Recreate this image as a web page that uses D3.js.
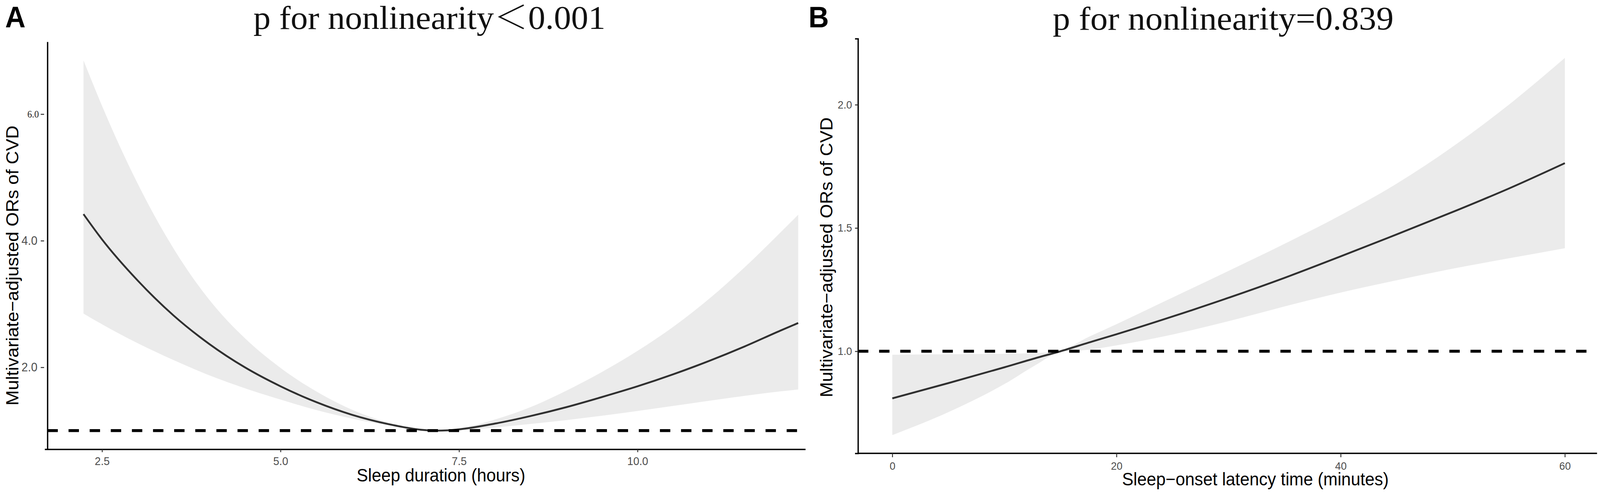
<!DOCTYPE html>
<html>
<head>
<meta charset="utf-8">
<script src="https://cdn.jsdelivr.net/npm/d3@7"></script>
<style>
  html, body { margin: 0; padding: 0; background: #ffffff; width: 100%; height: 100%; overflow: hidden; }
  svg { display: block; width: 100vw; height: 100vh; }
</style>
</head>
<body>
<svg id="chart" viewBox="0 0 4318 1260" preserveAspectRatio="none"></svg>
<script>
// ---------- Panel A: sleep duration ----------
const sleepHours = [2.24, 2.5, 3.0, 3.5, 4.0, 4.5, 5.0, 5.5, 6.0, 6.5, 7.0, 7.2, 7.5, 8.0, 8.5, 9.0, 9.5, 10.0, 10.5, 11.0, 11.5, 12.0, 12.25];
const sleepOR    = [4.42, 4.02, 3.37, 2.82, 2.37, 2.00, 1.70, 1.45, 1.25, 1.105, 1.01, 1.00, 1.02, 1.11, 1.23, 1.37, 1.53, 1.70, 1.89, 2.10, 2.33, 2.58, 2.70];
const sleepUpper = [6.85, 6.13, 4.90, 3.88, 3.07, 2.46, 1.99, 1.62, 1.33, 1.13, 1.02, 1.00, 1.035, 1.175, 1.37, 1.63, 1.925, 2.26, 2.64, 3.08, 3.58, 4.13, 4.41];
const sleepLower = [2.85, 2.68, 2.38, 2.115, 1.875, 1.67, 1.49, 1.325, 1.19, 1.085, 1.00, 1.00, 1.005, 1.05, 1.105, 1.165, 1.235, 1.31, 1.39, 1.47, 1.55, 1.62, 1.65];
const sleepTicksX = [2.5, 5.0, 7.5, 10.0];
const sleepTicksY = [2.0, 4.0, 6.0];

// ---------- Panel B: sleep-onset latency ----------
const latencyMin   = [0, 5, 10, 13, 15, 17.5, 20, 25, 30, 35, 40, 45, 50, 55, 60];
const latencyOR    = [0.809, 0.871, 0.935, 0.975, 1.000, 1.035, 1.069, 1.141, 1.217, 1.298, 1.385, 1.474, 1.565, 1.660, 1.763];
const latencyUpper = [0.986, 0.988, 0.990, 0.993, 1.003, 1.058, 1.110, 1.218, 1.326, 1.436, 1.552, 1.680, 1.830, 2.000, 2.190];
const latencyLower = [0.660, 0.753, 0.867, 0.950, 0.998, 1.006, 1.024, 1.068, 1.122, 1.182, 1.238, 1.288, 1.335, 1.377, 1.418];
const latencyTicksX = [0, 20, 40, 60];
const latencyTicksY = [1.0, 1.5, 2.0];

const titles = ["p for nonlinearity\uFF1C0.001", "p for nonlinearity=0.839"];
const panelLetters = ["A", "B"];
const xTitles = ["Sleep duration (hours)", "Sleep\u2212onset latency time (minutes)"];
const yTitle = "Multivariate\u2212adjusted ORs of CVD";
const refOR = 1.0;

const SANS = "'Liberation Sans', Arial, Helvetica, sans-serif";
const SERIF = "'Liberation Serif', 'Times New Roman', Times, 'Noto Serif CJK SC', 'Noto Sans CJK SC', serif";

const svg = d3.select("#chart");
svg.append("rect").attr("width", 4318).attr("height", 1260).attr("fill", "#ffffff");

function drawPanel(cfg) {
  const x = d3.scaleLinear().domain(cfg.xDomain).range(cfg.xRange);
  const y = d3.scaleLinear().domain(cfg.yDomain).range(cfg.yRange);
  const g = svg.append("g");

  const rows = cfg.xs.map((v, i) => ({ x: v, m: cfg.mid[i], lo: cfg.lo[i], hi: cfg.hi[i] }));

  // confidence band
  g.append("path")
    .datum(rows)
    .attr("fill", "#ebebeb")
    .attr("stroke", "none")
    .attr("d", d3.area().curve(d3.curveMonotoneX)
      .x(d => x(d.x)).y0(d => y(d.lo)).y1(d => y(d.hi)));

  // fitted curve
  g.append("path")
    .datum(rows)
    .attr("fill", "none")
    .attr("stroke", "#303030")
    .attr("stroke-width", 4.8)
    .attr("d", d3.line().curve(d3.curveMonotoneX).x(d => x(d.x)).y(d => y(d.m)));

  // reference line OR = 1
  g.append("line")
    .attr("x1", cfg.xRange[0]).attr("x2", cfg.dashEnd)
    .attr("y1", y(refOR)).attr("y2", y(refOR))
    .attr("stroke", "#000").attr("stroke-width", 7.5)
    .attr("stroke-dasharray", "28,29");

  // x axis
  const xa = g.append("g")
    .attr("transform", `translate(0,${cfg.yRange[0]})`)
    .call(d3.axisBottom(x).tickValues(cfg.xTicks).tickFormat(cfg.xFmt)
      .tickSizeOuter(0).tickSize(cfg.xTickSize).tickPadding(cfg.xTickPad));
  xa.select(".domain").attr("stroke", "#000").attr("stroke-width", 3.6)
    .attr("d", `M${cfg.xRange[0] - cfg.xAxisExt},0H${cfg.xRange[1]}`);
  xa.selectAll(".tick line").attr("stroke", "#333").attr("stroke-width", 2.5);
  xa.selectAll(".tick text").attr("fill", "#4d4d4d")
    .style("font-family", SANS).style("font-size", cfg.xTickFont + "px");

  // y axis
  const ya = g.append("g")
    .attr("transform", `translate(${cfg.xRange[0]},0)`)
    .call(d3.axisLeft(y).tickValues(cfg.yTicks).tickFormat(d3.format(".1f"))
      .tickSizeOuter(0).tickSize(cfg.yTickSize).tickPadding(cfg.yTickPad));
  ya.select(".domain").attr("stroke", "#000").attr("stroke-width", 3.6);
  ya.selectAll(".tick line").attr("stroke", "#333").attr("stroke-width", 2.5);
  if (cfg.yTickGap) {
    ya.selectAll(".tick line").attr("x1", -cfg.yTickGap[0]).attr("x2", -cfg.yTickGap[1]);
  }
  ya.selectAll(".tick text").attr("fill", "#4d4d4d")
    .style("font-family", SANS).style("font-size", cfg.yTickFont + "px");
  if (cfg.serifTick !== undefined) {
    ya.selectAll(".tick text").filter(d => d === cfg.serifTick)
      .style("font-family", SERIF).style("font-size", "25px").attr("fill", "#222")
      .attr("x", -23);
  }

  // axis titles
  svg.append("text")
    .attr("x", cfg.xTitlePos[0]).attr("y", cfg.xTitlePos[1])
    .attr("text-anchor", "middle")
    .style("font-family", SANS).style("font-size", "46px").attr("fill", "#000")
    .text(cfg.xTitle);

  svg.append("text")
    .attr("transform", `translate(${cfg.yTitlePos[0]},${cfg.yTitlePos[1]}) rotate(-90)`)
    .attr("text-anchor", "middle")
    .style("font-family", SANS).style("font-size", "47px").attr("fill", "#000")
    .text(yTitle);

  // panel title
  svg.append("text")
    .attr("x", cfg.titlePos[0]).attr("y", cfg.titlePos[1])
    .attr("text-anchor", "middle")
    .attr("textLength", cfg.titleWidth).attr("lengthAdjust", "spacingAndGlyphs")
    .style("font-family", SERIF).style("font-size", "84px").attr("fill", "#111")
    .text(cfg.title);

  // panel letter
  svg.append("text")
    .attr("x", cfg.letterPos[0]).attr("y", cfg.letterPos[1])
    .style("font-family", SANS).style("font-weight", "bold").style("font-size", "76px")
    .attr("fill", "#000")
    .text(cfg.letter);
}

drawPanel({
  xs: sleepHours, mid: sleepOR, lo: sleepLower, hi: sleepUpper,
  xDomain: [1.735, 12.353], xRange: [128, 2174],
  yDomain: [0.7026, 7.143], yRange: [1151, 107],
  dashEnd: 2174, xAxisExt: 7,
  xTicks: sleepTicksX, xFmt: d3.format(".1f"), xTickSize: 7, xTickPad: 12, xTickFont: 29,
  yTicks: sleepTicksY, yTickSize: 0, yTickPad: 27, yTickGap: [18, 9], yTickFont: 31,
  serifTick: 6.0,
  xTitle: xTitles[0], xTitlePos: [1190, 1233],
  yTitlePos: [50, 680],
  title: titles[0], titlePos: [1159, 74], titleWidth: 950,
  letter: panelLetters[0], letterPos: [14, 70]
});

drawPanel({
  xs: latencyMin, mid: latencyOR, lo: latencyLower, hi: latencyUpper,
  xDomain: [-3.062, 62.87], xRange: [2315.5, 4310],
  yDomain: [0.586, 2.268], yRange: [1161, 99],
  dashEnd: 4292, xAxisExt: 0,
  xTicks: latencyTicksX, xFmt: d3.format("d"), xTickSize: 10, xTickPad: 12, xTickFont: 28,
  yTicks: latencyTicksY, yTickSize: 8, yTickPad: 8, yTickFont: 28,
  xTitle: xTitles[1], xTitlePos: [3388, 1243],
  yTitlePos: [2247, 659],
  title: titles[1], titlePos: [3301, 76], titleWidth: 920,
  letter: panelLetters[1], letterPos: [2182, 70]
});
</script>
</body>
</html>
